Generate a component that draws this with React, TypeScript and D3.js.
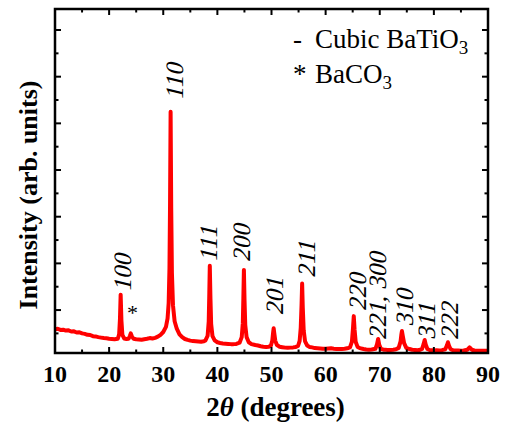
import React from "react";
import * as d3 from "d3";

// XRD pattern: [2theta (deg), intensity (arb.)]
const pattern: [number, number][] = [
  [10.0, 590], [10.5, 600], [11.0, 575], [11.5, 580], [12.0, 560], [12.5, 565],
  [13.0, 540], [13.5, 545], [14.0, 520], [14.5, 525], [15.0, 500], [15.5, 490],
  [16.0, 470], [16.5, 465], [17.0, 440], [17.5, 435], [18.0, 420], [18.5, 410],
  [19.0, 400], [19.5, 395], [20.0, 385], [20.5, 380], [21.0, 375], [21.3, 380],
  [21.6, 385], [21.85, 480], [22.0, 800], [22.13, 1330], [22.27, 780], [22.45, 470],
  [22.8, 390], [23.2, 380], [23.6, 385], [23.85, 450], [24.0, 500], [24.2, 440],
  [24.5, 385], [25.0, 375], [25.5, 370], [26.0, 365], [26.5, 375], [27.0, 385],
  [27.5, 400], [28.0, 390], [28.5, 405], [29.0, 430], [29.5, 470], [30.0, 530],
  [30.5, 640], [30.8, 820], [31.0, 1150], [31.15, 1900], [31.25, 3200], [31.36, 5250],
  [31.47, 3200], [31.6, 1800], [31.8, 1100], [32.1, 760], [32.5, 600], [33.0, 480],
  [33.5, 420], [34.0, 380], [34.5, 360], [35.0, 345], [35.5, 335], [36.0, 330],
  [36.5, 325], [37.0, 320], [37.5, 330], [37.8, 350], [38.2, 450], [38.4, 750],
  [38.5, 1300], [38.6, 1950], [38.72, 1250], [38.85, 700], [39.1, 440], [39.5, 350],
  [40.0, 310], [40.5, 295], [41.0, 285], [41.5, 280], [42.0, 275], [42.5, 270],
  [43.0, 270], [43.5, 275], [44.1, 300], [44.5, 420], [44.7, 720], [44.8, 1250],
  [44.9, 1860], [45.02, 1200], [45.15, 680], [45.4, 420], [45.8, 310], [46.3, 270],
  [47.0, 250], [47.5, 240], [48.0, 225], [48.5, 215], [49.0, 210], [49.5, 215],
  [49.9, 240], [50.15, 350], [50.3, 520], [50.4, 610], [50.52, 500], [50.7, 340],
  [51.0, 250], [51.5, 215], [52.0, 205], [52.5, 195], [53.0, 190], [53.5, 195],
  [54.0, 200], [54.5, 210], [54.9, 230], [55.2, 340], [55.4, 620], [55.55, 1100],
  [55.66, 1570], [55.78, 1050], [55.95, 560], [56.2, 330], [56.6, 240], [57.0, 210],
  [57.5, 200], [58.0, 185], [58.5, 180], [59.0, 175], [59.5, 170], [60.0, 170],
  [60.5, 175], [61.0, 180], [61.5, 170], [62.0, 165], [62.5, 165], [63.0, 165],
  [63.5, 170], [64.0, 180], [64.5, 200], [64.85, 320], [65.05, 600], [65.2, 870],
  [65.35, 580], [65.55, 320], [65.9, 210], [66.3, 185], [67.0, 165], [67.5, 155],
  [68.0, 150], [68.5, 155], [69.2, 170], [69.5, 270], [69.7, 380], [69.9, 260],
  [70.2, 170], [70.7, 150], [71.0, 148], [71.5, 145], [72.0, 145], [72.5, 150],
  [73.0, 160], [73.5, 190], [73.85, 330], [74.0, 480], [74.1, 550], [74.25, 450],
  [74.5, 290], [74.9, 190], [75.5, 165], [76.0, 150], [76.5, 145], [77.0, 140],
  [77.5, 150], [77.8, 165], [78.1, 270], [78.3, 360], [78.5, 260], [78.8, 165],
  [79.2, 145], [79.7, 140], [80.0, 135], [80.5, 138], [81.0, 135], [81.5, 140],
  [82.1, 160], [82.4, 240], [82.6, 310], [82.8, 235], [83.1, 160], [83.5, 140],
  [84.0, 135], [84.5, 132], [85.0, 130], [85.5, 135], [86.2, 150], [86.6, 200],
  [87.0, 150], [87.5, 135], [88.0, 130], [88.5, 128], [89.0, 130], [89.5, 128],
  [90.0, 130],
];

// peak index labels: text, 2theta of label baseline, intensity of label start
const peakLabels = ["100", "110", "111", "200", "201", "211", "220", "221, 300", "310", "311", "222"];
const labelTheta = [24.0, 33.6, 39.9, 46.0, 52.1, 58.0, 67.4, 71.1, 76.1, 80.15, 84.4];
const labelLevel = [1390, 5500, 2030, 2030, 890, 1690, 980, 360, 640, 360, 360];

// impurity marker
const impurityTheta = 24.3;
const impurityLevel = 780;

const xTicks = [10, 20, 30, 40, 50, 60, 70, 80, 90];
const xMinorTicks = [15, 25, 35, 45, 55, 65, 75, 85];
const yTicks = [1000, 2000, 3000, 4000, 5000, 6000, 7000];
const yMinorTicks = [500, 1500, 2500, 3500, 4500, 5500, 6500];

const W = 508;
const H = 427;
const margin = { left: 55, right: 20, top: 9, bottom: 74 };
const font = "'Liberation Serif', 'Times New Roman', serif";

export default function App() {
  const x0 = margin.left;
  const x1 = W - margin.right;
  const y0 = margin.top;
  const y1 = H - margin.bottom;

  const x = d3.scaleLinear().domain([10, 90]).range([x0, x1]);
  const y = d3.scaleLinear().domain([80, 7450]).range([y1, y0]);

  const line = d3
    .line<[number, number]>()
    .x((d) => x(d[0]))
    .y((d) => y(d[1]));

  const major = 6;
  const minor = 3.5;

  return (
    <svg
      width={W}
      height={H}
      style={{ position: "fixed", left: 0, top: 0, background: "#fff" }}
      fontFamily={font}
    >
      <defs>
        <clipPath id="plot">
          <rect x={x0} y={y0} width={x1 - x0} height={y1 - y0} />
        </clipPath>
      </defs>

      {/* pattern */}
      <path
        d={line(pattern) || ""}
        fill="none"
        stroke="#ff0000"
        strokeWidth={4}
        strokeLinejoin="round"
        clipPath="url(#plot)"
      />

      {/* ticks, inward on all four sides */}
      <g stroke="#000" strokeWidth={2}>
        {xTicks.map((t) => (
          <g key={`xt-${t}`}>
            <line x1={x(t)} x2={x(t)} y1={y1} y2={y1 - major} />
            <line x1={x(t)} x2={x(t)} y1={y0} y2={y0 + major} />
          </g>
        ))}
        {xMinorTicks.map((t) => (
          <g key={`xm-${t}`}>
            <line x1={x(t)} x2={x(t)} y1={y1} y2={y1 - minor} />
            <line x1={x(t)} x2={x(t)} y1={y0} y2={y0 + minor} />
          </g>
        ))}
        {yTicks.map((t) => (
          <g key={`yt-${t}`}>
            <line x1={x0} x2={x0 + major} y1={y(t)} y2={y(t)} />
            <line x1={x1} x2={x1 - major} y1={y(t)} y2={y(t)} />
          </g>
        ))}
        {yMinorTicks.map((t) => (
          <g key={`ym-${t}`}>
            <line x1={x0} x2={x0 + minor} y1={y(t)} y2={y(t)} />
            <line x1={x1} x2={x1 - minor} y1={y(t)} y2={y(t)} />
          </g>
        ))}
      </g>

      {/* frame */}
      <rect
        x={x0}
        y={y0}
        width={x1 - x0}
        height={y1 - y0}
        fill="none"
        stroke="#000"
        strokeWidth={2.5}
      />

      {/* x tick labels */}
      {xTicks.map((t) => (
        <text
          key={`xl-${t}`}
          x={x(t)}
          y={y1 + 29}
          textAnchor="middle"
          fontSize={24}
          fontWeight="bold"
        >
          {t}
        </text>
      ))}

      {/* axis titles */}
      <text x={(x0 + x1) / 2 + 4} y={416} textAnchor="middle" fontSize={27} fontWeight="bold">
        2<tspan fontStyle="italic">θ</tspan> (degrees)
      </text>
      <text
        transform={`translate(37, ${(y0 + y1) / 2 + 14}) rotate(-90)`}
        textAnchor="middle"
        fontSize={26}
        fontWeight="bold"
      >
        Intensity (arb. units)
      </text>

      {/* peak labels (slanted by hand so the serif face is kept) */}
      {peakLabels.map((s, i) => (
        <text
          key={`pl-${i}`}
          transform={`translate(${x(labelTheta[i])}, ${y(labelLevel[i])}) rotate(-90) skewX(-14)`}
          fontSize={25}
        >
          {s}
        </text>
      ))}

      <text x={x(impurityTheta)} y={y(impurityLevel)} textAnchor="middle" fontSize={22}>
        *
      </text>

      {/* legend */}
      <g fontSize={27}>
        <text x={293} y={48}>-</text>
        <text x={315} y={48}>
          Cubic BaTiO<tspan fontSize={19} dy={6}>3</tspan>
        </text>
        <text x={293} y={83}>*</text>
        <text x={315} y={83}>
          BaCO<tspan fontSize={19} dy={6}>3</tspan>
        </text>
      </g>
    </svg>
  );
}
